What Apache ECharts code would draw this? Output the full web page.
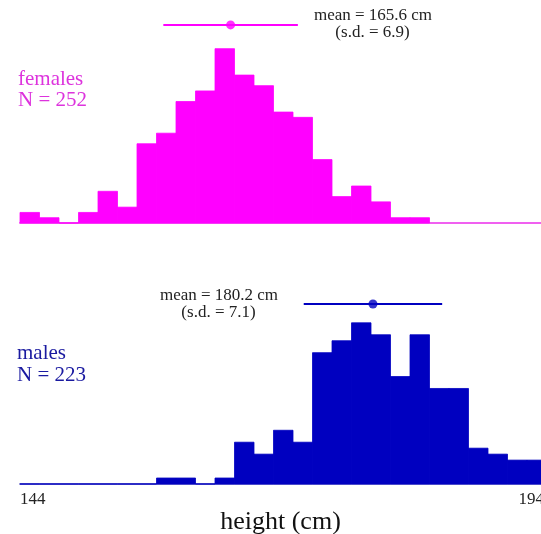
<!DOCTYPE html>
<html>
<head>
<meta charset="utf-8">
<script src="https://cdn.jsdelivr.net/npm/echarts@6/dist/echarts.min.js"></script>
<style>html,body{margin:0;padding:0;background:#fff}#c{width:541px;height:534px}</style>
</head>
<body>
<div id="c"></div>
<script>
// ---- data ----
const binStart = 144;      // cm, left edge of first bin
const binWidth = 2;        // cm
const femaleCounts = [2, 1, 0, 2, 6, 3, 15, 17, 23, 25, 33, 28, 26, 21, 20, 12, 5, 7, 4, 1, 1];
const maleCounts = [0, 0, 0, 0, 0, 0, 0, 1, 1, 0, 1, 7, 5, 9, 7, 22, 24, 27, 25, 18, 25, 16, 16, 6, 5, 4, 4];
const femaleN = 252, maleN = 223;
const femaleMean = 165.6, femaleSD = 6.9;
const maleMean = 180.2, maleSD = 7.1;
const xTickLabels = [144, 194];

// ---- style ----
const MAG = '#ff00ff', BLUE = '#0000c0';
const SERIF = '"Liberation Serif", "DejaVu Serif", serif';
const yMax = 0.16;
const xMax = 144 + 521 / 9.75;

function bins(counts, n) {
  return counts.map((c, i) => [binStart + i * binWidth, binStart + (i + 1) * binWidth, c / n]);
}

function renderBar(params, api) {
  const p0 = api.coord([api.value(0), 0]);
  const p1 = api.coord([api.value(1), api.value(2)]);
  const col = api.visual('color');
  return {
    type: 'rect',
    shape: { x: p0[0], y: p1[1], width: p1[0] - p0[0], height: p0[1] - p1[1] },
    style: { fill: col, stroke: col, lineWidth: 0.8 }
  };
}

const xBase = (idx, showLabels, lineColor) => ({
  type: 'value', gridIndex: idx, min: 144, max: xMax, interval: 50,
  axisLine: { show: true, onZero: false, lineStyle: { color: lineColor, width: 2 } },
  axisTick: { show: false }, splitLine: { show: false },
  axisLabel: {
    show: showLabels, align: 'left', margin: 7,
    color: '#222', fontFamily: SERIF, fontSize: 17,
    showMaxLabel: false,
    formatter: v => {
      if (v === xTickLabels[0]) return '{a|' + v + '}';
      if (v === xTickLabels[1]) return '{b|' + v + '}';
      return '';
    },
    rich: {
      a: { color: '#222', fontFamily: SERIF, fontSize: 17 },
      b: { color: '#222', fontFamily: SERIF, fontSize: 17, padding: [0, 0, 0, 11] }
    }
  }
});

const yBase = idx => ({ type: 'value', gridIndex: idx, min: 0, max: yMax, show: false });

const femY = 0.1488, maleY = 0.1352;

const chart = echarts.init(document.getElementById('c'), null, { renderer: 'canvas' });
chart.setOption({
  animation: false,
  backgroundColor: '#fff',
  grid: [
    { left: 20, top: 10, right: 0, height: 213, containLabel: false, outerBoundsMode: 'none' },
    { left: 20, top: 271, right: 0, height: 213, containLabel: false, outerBoundsMode: 'none' }
  ],
  xAxis: [
    xBase(0, false, '#f060f0'),
    Object.assign(xBase(1, true, '#7c7cd0'), {
      name: 'height (cm)', nameLocation: 'middle', nameGap: 21,
      nameTextStyle: { color: '#111', fontFamily: SERIF, fontSize: 26 }
    })
  ],
  yAxis: [yBase(0), yBase(1)],
  series: [
    { type: 'custom', xAxisIndex: 0, yAxisIndex: 0, renderItem: renderBar, clip: false, data: bins(femaleCounts, femaleN), itemStyle: { color: MAG }, encode: { x: [0, 1], y: 2 } },
    { type: 'custom', xAxisIndex: 1, yAxisIndex: 1, renderItem: renderBar, clip: false, data: bins(maleCounts, maleN), itemStyle: { color: BLUE }, encode: { x: [0, 1], y: 2 } },
    { type: 'line', xAxisIndex: 0, yAxisIndex: 0, symbol: 'none', lineStyle: { color: MAG, width: 2 },
      data: [[femaleMean - femaleSD, femY], [femaleMean + femaleSD, femY]] },
    { type: 'scatter', xAxisIndex: 0, yAxisIndex: 0, symbolSize: 9, itemStyle: { color: MAG }, data: [[femaleMean, femY]] },
    { type: 'line', xAxisIndex: 1, yAxisIndex: 1, symbol: 'none', lineStyle: { color: BLUE, width: 2 },
      data: [[maleMean - maleSD, maleY], [maleMean + maleSD, maleY]] },
    { type: 'scatter', xAxisIndex: 1, yAxisIndex: 1, symbolSize: 9, itemStyle: { color: BLUE }, data: [[maleMean, maleY]] }
  ],
  graphic: [
    { type: 'text', style: { x: 373, y: 15.3, text: 'mean = ' + femaleMean.toFixed(1) + ' cm', align: 'center', verticalAlign: 'middle', fill: '#222', font: '17px ' + SERIF } },
    { type: 'text', style: { x: 372.5, y: 32.9, text: '(s.d. = ' + femaleSD.toFixed(1) + ')', align: 'center', verticalAlign: 'middle', fill: '#222', font: '17px ' + SERIF } },
    { type: 'text', style: { x: 219, y: 295.3, text: 'mean = ' + maleMean.toFixed(1) + ' cm', align: 'center', verticalAlign: 'middle', fill: '#222', font: '17px ' + SERIF } },
    { type: 'text', style: { x: 218.5, y: 312.6, text: '(s.d. = ' + maleSD.toFixed(1) + ')', align: 'center', verticalAlign: 'middle', fill: '#222', font: '17px ' + SERIF } },
    { type: 'text', style: { x: 18, y: 79.9, text: 'females', align: 'left', verticalAlign: 'middle', fill: '#dd33dd', font: '21px ' + SERIF } },
    { type: 'text', style: { x: 18, y: 100.9, text: 'N = ' + femaleN, align: 'left', verticalAlign: 'middle', fill: '#dd33dd', font: '21px ' + SERIF } },
    { type: 'text', style: { x: 17, y: 353.9, text: 'males', align: 'left', verticalAlign: 'middle', fill: '#1a1aa0', font: '21px ' + SERIF } },
    { type: 'text', style: { x: 17, y: 375.6, text: 'N = ' + maleN, align: 'left', verticalAlign: 'middle', fill: '#1a1aa0', font: '21px ' + SERIF } }
  ]
});
</script>
</body>
</html>
